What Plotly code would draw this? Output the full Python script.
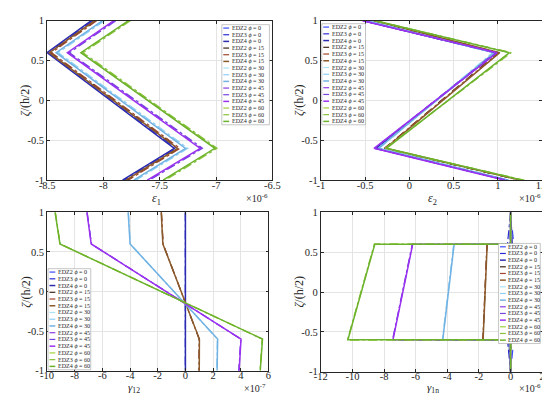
import plotly.graph_objects as go

W, H = 550, 395

# ---------------- data ----------------
zeta4 = [1, 0.6, -0.6, -1]
zeta6 = [1, 0.6, 0.6, -0.6, -0.6, -1]
phi_labels = ["0", "15", "30", "45", "60"]
edz_labels = ["EDZ2", "EDZ3", "EDZ4"]

# eps1 (x1e-6), rows = phi 0,15,30,45,60 ; values at zeta4
eps1_edz2 = [[-8.10, -8.49, -7.36, -7.82], [-8.07, -8.47, -7.33, -7.79], [-8.00, -8.41, -7.26, -7.72],
             [-7.90, -8.31, -7.13, -7.60], [-7.77, -8.19, -7.00, -7.46]]
eps1_edz3 = [[-8.09, -8.48, -7.35, -7.81], [-8.06, -8.46, -7.32, -7.78], [-7.99, -8.40, -7.25, -7.71],
             [-7.89, -8.30, -7.12, -7.59], [-7.76, -8.18, -6.99, -7.45]]
eps1_edz4 = [[-8.11, -8.50, -7.37, -7.83], [-8.08, -8.48, -7.34, -7.80], [-8.01, -8.42, -7.27, -7.73],
             [-7.91, -8.32, -7.14, -7.61], [-7.78, -8.20, -7.01, -7.47]]

# eps2 (x1e-6)
eps2_edz2 = [[-0.50, 0.97, -0.37, 1.10], [-0.41, 1.00, -0.28, 1.24], [-0.47, 0.95, -0.34, 1.13],
             [-0.52, 0.97, -0.39, 1.09], [-0.39, 1.14, -0.27, 1.29]]
eps2_edz3 = [[-0.51, 0.96, -0.37, 1.09], [-0.40, 1.01, -0.28, 1.25], [-0.48, 0.94, -0.35, 1.12],
             [-0.52, 0.98, -0.39, 1.10], [-0.38, 1.15, -0.27, 1.30]]
eps2_edz4 = [[-0.52, 0.98, -0.38, 1.11], [-0.40, 1.02, -0.27, 1.26], [-0.48, 0.96, -0.35, 1.12],
             [-0.53, 0.99, -0.40, 1.08], [-0.38, 1.13, -0.26, 1.28]]

# gamma12 (x1e-7)
g12_edz2 = [[0, 0, 0, 0], [-1.74, -1.62, 1.00, 0.99], [-4.13, -3.99, 2.32, 2.28],
            [-7.11, -6.80, 4.01, 3.87], [-9.41, -9.06, 5.56, 5.40]]
g12_edz3 = [[0, 0, 0, 0], [-1.73, -1.61, 0.99, 0.98], [-4.12, -3.98, 2.31, 2.27],
            [-7.10, -6.79, 4.00, 3.86], [-9.40, -9.05, 5.55, 5.39]]
g12_edz4 = [[0, 0, 0, 0], [-1.75, -1.63, 1.01, 1.00], [-4.14, -4.00, 2.33, 2.29],
            [-7.12, -6.81, 4.02, 3.88], [-9.42, -9.07, 5.57, 5.41]]

# gamma1n (x1e-6), values at zeta6
g1n_edz2 = [[0, 0.20, 0, 0, 0.20, 0], [0, 0.05, -1.49, -1.75, 0.05, 0], [0, 0.05, -3.58, -4.30, 0.05, 0],
            [0, 0.03, -6.20, -7.45, 0.03, 0], [0, 0.02, -8.60, -10.30, 0.02, 0]]
g1n_edz3 = [[0, -0.20, 0, 0, -0.20, 0], [0, -0.05, -1.50, -1.76, -0.05, 0], [0, -0.05, -3.60, -4.32, -0.05, 0],
            [0, -0.03, -6.22, -7.47, -0.03, 0], [0, -0.02, -8.62, -10.32, -0.02, 0]]
g1n_edz4 = [[0, 0.10, 0, 0, -0.10, 0], [0, 0.0, -1.48, -1.74, 0.0, 0], [0, 0.0, -3.57, -4.29, 0.0, 0],
            [0, 0.0, -6.19, -7.44, 0.0, 0], [0, 0.0, -8.59, -10.29, 0.0, 0]]

# colours per phi for each EDZ model
col_edz2 = ["#3a4cff", "#3b2416", "#a8e4f4", "#8d3ce6", "#a2d13c"]
col_edz3 = ["#2a2ad6", "#a0452c", "#8ccff8", "#7444e0", "#86c23a"]
col_edz4 = ["#2b2bb0", "#8b5a2b", "#72b2e2", "#9a30f0", "#6cb22c"]
dash_edz = ["dash", "dashdot", "solid"]
width_edz = [1.2, 1.2, 1.5]

# ticks
yt_vals = [-1, -0.5, 0, 0.5, 1]
yt_text = ["-1", "-0.5", "0", "0.5", "1"]
x1_vals = [-8.5, -8, -7.5, -7, -6.5]
x1_text = ["-8.5", "-8", "-7.5", "-7", "-6.5"]
x2_vals = [-1, -0.5, 0, 0.5, 1, 1.5]
x2_text = ["-1", "-0.5", "0", "0.5", "1", "1.5"]
x3_vals = [-10, -8, -6, -4, -2, 0, 2, 4, 6]
x3_text = ["-10", "-8", "-6", "-4", "-2", "0", "2", "4", "6"]
x4_vals = [-12, -10, -8, -6, -4, -2, 0, 2]
x4_text = ["-12", "-10", "-8", "-6", "-4", "-2", "0", "2"]

# ---------------- figure ----------------
FONT = "Liberation Serif"
fig = go.Figure()

def px(x):
    return x / W

def py(y):
    return 1 - y / H

panels = [
    (1, [eps1_edz2, eps1_edz3, eps1_edz4], zeta4),
    (2, [eps2_edz2, eps2_edz3, eps2_edz4], zeta4),
    (3, [g12_edz2, g12_edz3, g12_edz4], zeta4),
    (4, [g1n_edz2, g1n_edz3, g1n_edz4], zeta6),
]
cols = [col_edz2, col_edz3, col_edz4]

for k, sets, zeta in panels:
    xa = "x" if k == 1 else f"x{k}"
    ya = "y" if k == 1 else f"y{k}"
    for p in range(5):
        for e in range(3):
            fig.add_trace(go.Scatter(
                x=sets[e][p], y=zeta, mode="lines", xaxis=xa, yaxis=ya,
                line=dict(color=cols[e][p], dash=dash_edz[e], width=width_edz[e]),
                name=f"{edz_labels[e]} ϕ = {phi_labels[p]}", showlegend=False))

# axes boxes (pixel coordinates)
boxes = {
    1: (32, 264, 8, 172),
    2: (314, 542, 8, 172),
    3: (32, 260, 205, 368),
    4: (314, 542, 205, 369),
}
xranges = {1: [-8.5, -6.5], 2: [-1, 1.5], 3: [-10, 6], 4: [-12, 2]}
xticks = {1: (x1_vals, x1_text), 2: (x2_vals, x2_text), 3: (x3_vals, x3_text), 4: (x4_vals, x4_text)}

axis_common = dict(
    showline=True, linecolor="#262626", linewidth=0.8, mirror="ticks",
    ticks="inside", ticklen=3, tickcolor="#262626", tickwidth=0.8,
    showgrid=True, gridcolor="#e4e4e4", gridwidth=0.8, zeroline=False,
    tickfont=dict(family=FONT, size=10.5, color="#262626"), tickmode="array",
)

lay = {}
for k, (x0, x1, y0, y1) in boxes.items():
    xn = "xaxis" if k == 1 else f"xaxis{k}"
    yn = "yaxis" if k == 1 else f"yaxis{k}"
    xa = "x" if k == 1 else f"x{k}"
    ya = "y" if k == 1 else f"y{k}"
    lay[xn] = dict(axis_common, domain=[px(x0), px(x1)], range=xranges[k], anchor=ya,
                   tickvals=xticks[k][0], ticktext=xticks[k][1], ticklabelstandoff=-5)
    lay[yn] = dict(axis_common, domain=[py(y1), py(y0)], range=[-1, 1], anchor=xa,
                   tickvals=yt_vals, ticktext=yt_text)

fig.update_layout(**lay)

annotations = []
shapes = []

def text(x, y, s, size=11, xanchor="center", angle=0):
    annotations.append(dict(x=px(x), y=py(y), xref="paper", yref="paper", text=s, showarrow=False,
                            xanchor=xanchor, yanchor="middle", textangle=angle,
                            font=dict(family=FONT, size=size, color="#262626")))

# axis titles
text(145, 191, "<i>ε</i><sub>1</sub>", 12)
text(429, 191, "<i>ε</i><sub>2</sub>", 12)
text(122, 386, "<i>γ</i><sub>12</sub>", 11)
text(430, 386, "<i>γ</i><sub>1n</sub>", 11)
for (xx, yy) in [(10, 90), (292, 90), (10, 287), (292, 287)]:
    text(xx, yy, "<i>ζ</i>/(h/2)", 12, angle=-90)
# exponent labels
text(262, 190, "×10<sup>-6</sup>", 10, xanchor="right")
text(543, 190, "×10<sup>-6</sup>", 10, xanchor="right")
text(260, 386, "×10<sup>-7</sup>", 10, xanchor="right")
text(543, 386, "×10<sup>-6</sup>", 10, xanchor="right")

# legends drawn as boxes with sample lines
legend_boxes = [(212, 261, 12, 115), (315, 360, 11, 115), (33, 77, 263, 367), (497, 540, 237, 340)]
for (lx0, lx1, ly0, ly1) in legend_boxes:
    shapes.append(dict(type="rect", xref="paper", yref="paper", x0=px(lx0), x1=px(lx1),
                       y0=py(ly1), y1=py(ly0), fillcolor="white", line=dict(color="#a0a0a0", width=0.6),
                       layer="above"))
    step = (ly1 - ly0 - 7) / 14.0
    i = 0
    for p in range(5):
        for e in range(3):
            yy = ly0 + 3.5 + i * step
            shapes.append(dict(type="line", xref="paper", yref="paper", x0=px(lx0 + 1.5), x1=px(lx0 + 7.5),
                               y0=py(yy), y1=py(yy), layer="above",
                               line=dict(color=cols[e][p], dash=dash_edz[e], width=width_edz[e])))
            annotations.append(dict(x=px(lx0 + 8), y=py(yy), xref="paper", yref="paper",
                                    text=f"{edz_labels[e]} <i>ϕ</i> = {phi_labels[p]}", showarrow=False,
                                    xanchor="left", yanchor="middle",
                                    font=dict(family=FONT, size=6.1, color="#262626")))
            i += 1

fig.update_layout(
    width=W, height=H, margin=dict(l=0, r=0, t=0, b=0),
    paper_bgcolor="white", plot_bgcolor="white", showlegend=False,
    annotations=annotations, shapes=shapes,
)

fig.write_html("out.html")
